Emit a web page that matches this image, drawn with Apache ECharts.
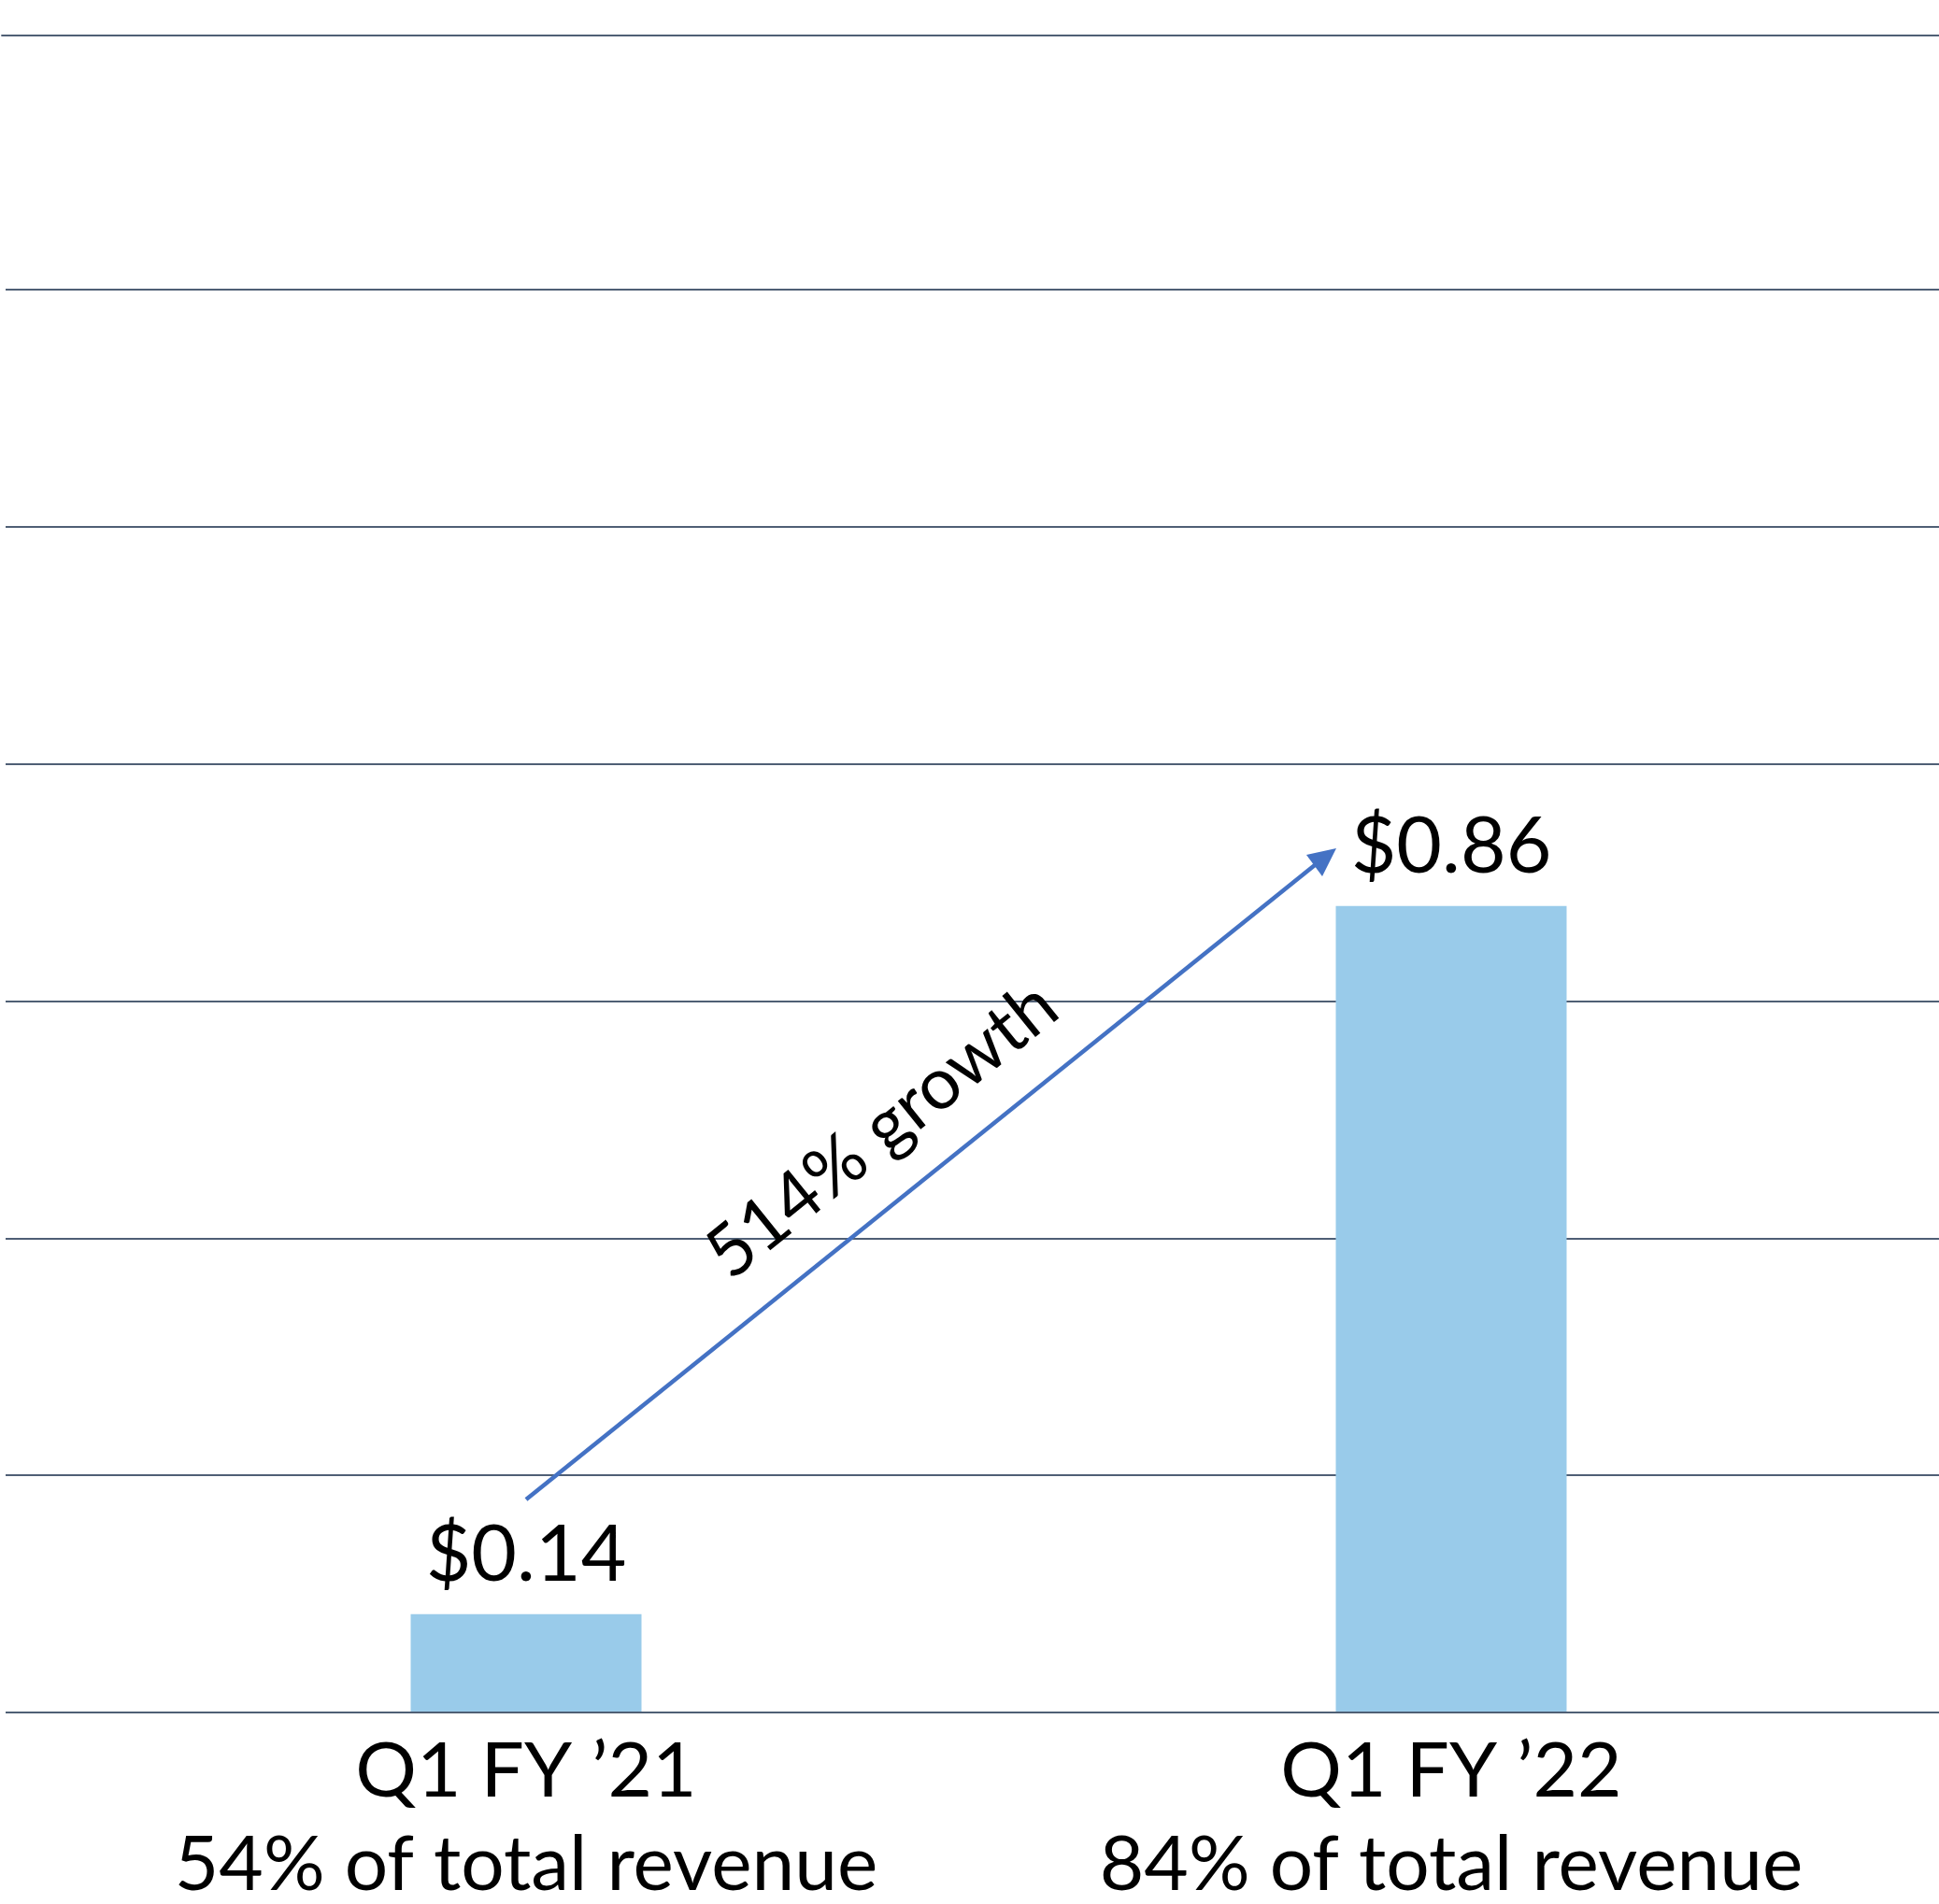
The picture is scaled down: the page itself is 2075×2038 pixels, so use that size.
<!DOCTYPE html>
<html>
<head>
<meta charset="utf-8">
<script src="https://cdn.jsdelivr.net/npm/echarts@6/dist/echarts.min.js"></script>
<style>
  html, body { margin: 0; padding: 0; background: #fff; }
  #chart { width: 2075px; height: 2038px; }
</style>
</head>
<body>
<div id="chart"></div>
<script>
// data
const quarters = ['Q1 FY \u201921', 'Q1 FY \u201922'];
const revenue = [0.14, 0.86];          // $ shown above bars
const shareOfTotal = [54, 84];         // % of total revenue
const growthPct = 514;
const gridSteps = [0, 1, 2, 3, 4, 5, 6];

const H = 2038;
const plotTop = 38, plotBottom = H - 1833;
const lineColor = '#4F5F75';
const font = 'Lato';

const chart = echarts.init(document.getElementById('chart'));

chart.setOption({
  animation: false,
  backgroundColor: '#fff',
  textStyle: { fontFamily: font },
  grid: [
    // horizontal rules
    { left: 6, right: 0, top: 310, bottom: plotBottom, outerBoundsMode: 'none' },
    // top border rule
    { left: 2, right: 0, top: plotTop, bottom: plotBottom, outerBoundsMode: 'none' },
    // bars
    { left: 68, right: 27, top: plotTop, bottom: plotBottom, outerBoundsMode: 'none' }
  ],
  xAxis: [
    { gridIndex: 0, type: 'value', show: false },
    {
      gridIndex: 1, type: 'value', position: 'top',
      axisLine: { show: true, onZero: false, lineStyle: { color: lineColor, width: 1.8 } },
      axisTick: { show: false }, axisLabel: { show: false }, splitLine: { show: false }
    },
    {
      gridIndex: 2, type: 'category', data: quarters, z: 10,
      axisLine: { show: true, onZero: false, lineStyle: { color: lineColor, width: 1.8 } },
      axisTick: { show: false },
      axisLabel: {
        color: '#000', fontSize: 82, lineHeight: 100, margin: 14, fontFamily: font,
        formatter: (v, i) => v + '\n' + shareOfTotal[i] + '% of total revenue'
      }
    }
  ],
  yAxis: [
    {
      gridIndex: 0, type: 'value', min: gridSteps[0], max: gridSteps[gridSteps.length - 1], interval: 1,
      axisLine: { show: false }, axisTick: { show: false }, axisLabel: { show: false },
      splitLine: { show: true, lineStyle: { color: lineColor, width: 1.8 } }
    },
    { gridIndex: 1, type: 'value', show: false, splitLine: { show: false } },
    { gridIndex: 2, type: 'value', min: 0.04, max: 1.745, show: false, splitLine: { show: false } }
  ],
  series: [{
    type: 'bar',
    xAxisIndex: 2,
    yAxisIndex: 2,
    data: revenue,
    barWidth: 247,
    itemStyle: { color: '#99CBEA' },
    label: {
      show: true, position: 'top', distance: 21,
      color: '#000', fontSize: 84, fontFamily: font,
      formatter: p => '$' + p.value.toFixed(2)
    }
  }],
  graphic: [
    {
      type: 'line', z: 20,
      shape: { x1: 563, y1: 1605, x2: 1407, y2: 926 },
      style: { stroke: '#4472C4', lineWidth: 4.5 }
    },
    {
      type: 'polygon', z: 20,
      shape: { points: [[1430, 908], [1398, 915], [1415, 938]] },
      style: { fill: '#4472C4' }
    },
    {
      type: 'text', z: 20,
      x: 944, y: 1210, rotation: Math.atan2(697, 867),
      style: {
        text: growthPct + '% growth', fill: '#000',
        font: '77px ' + font, align: 'center', verticalAlign: 'middle'
      }
    }
  ]
});
</script>
</body>
</html>
